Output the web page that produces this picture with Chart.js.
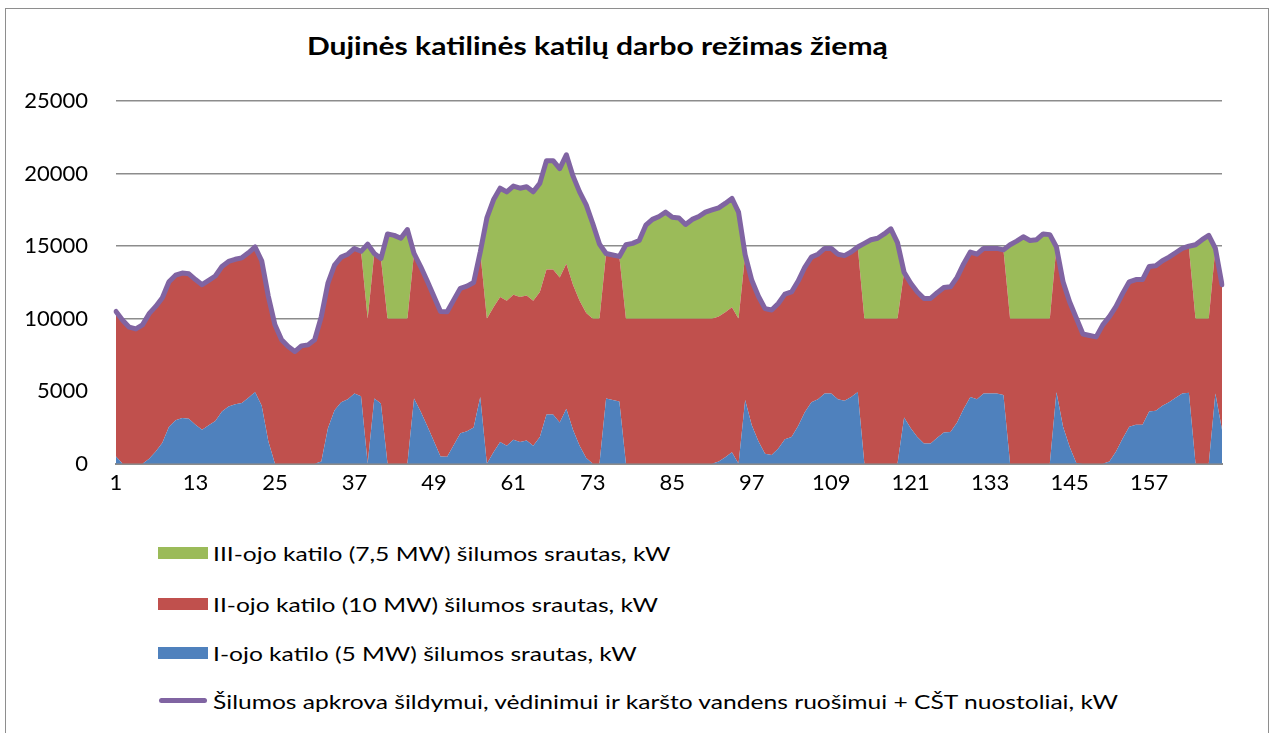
<!DOCTYPE html>
<html lang="lt">
<head>
<meta charset="UTF-8">
<title>Dujinės katilinės katilų darbo režimas žiemą</title>
<script src="https://cdn.jsdelivr.net/npm/chart.js"></script>
<style>
  body { margin: 0; background: #fff; font-family: Lato, sans-serif; color: #000; }
  .remas { position: absolute; left: 5px; top: 8px; width: 1262px; height: 740px; border: 1px solid #8e8e8e; }
  .pavadinimas { position: absolute; left: 0; width: 1194px; top: 31px; text-align: center; font-weight: bold; font-size: 24px; }
  .pavadinimas span { display: inline-block; transform: scaleX(1.25); }
  .grafikas { position: absolute; left: 0; top: 60px; width: 1274px; height: 445px; }
  .legenda div { position: absolute; left: 158px; font-size: 20px; line-height: 24px; white-space: nowrap; }
  .legenda span.dez { position: absolute; left: 0; top: 6px; width: 50px; height: 12px; }
  .legenda span.linija { position: absolute; left: 1px; top: 9px; width: 48px; height: 5px; border-radius: 3px; background: #8064A2; }
  .legenda span.tekstas { position: absolute; left: 55px; top: 0; transform: scaleX(1.23); transform-origin: left center; }
</style>
</head>
<body>
<div class="remas"></div>
<div class="pavadinimas"><span>Dujinės katilinės katilų darbo režimas žiemą</span></div>
<div class="grafikas"><canvas id="grafikas"></canvas></div>
<div class="legenda">
  <div style="top:541px"><span class="dez" style="background:#9BBB59"></span><span class="tekstas">III-ojo katilo (7,5 MW) šilumos srautas, kW</span></div>
  <div style="top:592px"><span class="dez" style="background:#C0504D"></span><span class="tekstas">II-ojo katilo (10 MW) šilumos srautas, kW</span></div>
  <div style="top:641px"><span class="dez" style="background:#4F81BD"></span><span class="tekstas">I-ojo katilo (5 MW) šilumos srautas, kW</span></div>
  <div style="top:689px"><span class="linija"></span><span class="tekstas">Šilumos apkrova šildymui, vėdinimui ir karšto vandens ruošimui + CŠT nuostoliai, kW</span></div>
</div>
<script>
// valandos 1..168
var valandos = [];
for (var i = 1; i <= 168; i++) valandos.push(String(i));

// I-ojo katilo (5 MW) srautas, kW
var katilas1 = [
  500, 0, 0, 0, 0, 350, 850, 1450, 2550, 3000, 3150, 3100, 2700, 2350, 2650, 2950, 3600, 3950, 4100, 4200, 4550, 4950, 4000, 1550,
  0, 0, 0, 0, 0, 0, 0, 150, 2450, 3700, 4250, 4450, 4850, 4650, 0, 4500, 4150, 0, 0, 0, 0, 4500, 3600, 2600,
  1550, 500, 480, 1300, 2100, 2250, 2500, 4600, 0, 800, 1500, 1250, 1650, 1500, 1600, 1250, 1850, 3400, 3400, 2850, 3800, 2350, 1250, 400,
  0, 0, 4500, 4400, 4300, 0, 0, 0, 0, 0, 0, 0, 0, 0, 0, 0, 0, 0, 0, 150, 450, 800, 0, 4400,
  2650, 1550, 700, 600, 1050, 1700, 1850, 2600, 3550, 4250, 4450, 4850, 4850, 4450, 4350, 4600, 4950, 0, 0, 0, 0, 0, 0, 3200,
  2450, 1850, 1400, 1400, 1800, 2150, 2200, 2850, 3800, 4600, 4450, 4850, 4850, 4850, 4750, 0, 0, 0, 0, 0, 0, 0, 4950, 2550,
  1150, 50, 0, 0, 0, 0, 150, 850, 1750, 2550, 2700, 2700, 3600, 3650, 4000, 4250, 4550, 4850, 4900, 0, 0, 0, 4850, 2350
];

// II-ojo katilo (10 MW) srautas, kW
var katilas2 = [
  10000, 9900, 9420, 9300, 9580, 10000, 10000, 10000, 10000, 10000, 10000, 10000, 10000, 10000, 10000, 10000, 10000, 10000, 10000, 10000, 10000, 10000, 10000, 10000,
  9580, 8550, 8080, 7740, 8130, 8200, 8550, 10000, 10000, 10000, 10000, 10000, 10000, 10000, 10000, 10000, 10000, 10000, 10000, 10000, 10000, 10000, 10000, 10000,
  10000, 10000, 10000, 10000, 10000, 10000, 10000, 10000, 10000, 10000, 10000, 10000, 10000, 10000, 10000, 10000, 10000, 10000, 10000, 10000, 10000, 10000, 10000, 10000,
  10000, 10000, 10000, 10000, 10000, 10000, 10000, 10000, 10000, 10000, 10000, 10000, 10000, 10000, 10000, 10000, 10000, 10000, 10000, 10000, 10000, 10000, 10000, 10000,
  10000, 10000, 10000, 10000, 10000, 10000, 10000, 10000, 10000, 10000, 10000, 10000, 10000, 10000, 10000, 10000, 10000, 10000, 10000, 10000, 10000, 10000, 10000, 10000,
  10000, 10000, 10000, 10000, 10000, 10000, 10000, 10000, 10000, 10000, 10000, 10000, 10000, 10000, 10000, 10000, 10000, 10000, 10000, 10000, 10000, 10000, 10000, 10000,
  10000, 10000, 8950, 8850, 8750, 9580, 10000, 10000, 10000, 10000, 10000, 10000, 10000, 10000, 10000, 10000, 10000, 10000, 10000, 10000, 10000, 10000, 10000, 10000
];

// III-ojo katilo (7,5 MW) srautas, kW
var katilas3 = [
  0, 0, 0, 0, 0, 0, 0, 0, 0, 0, 0, 0, 0, 0, 0, 0, 0, 0, 0, 0, 0, 0, 0, 0,
  0, 0, 0, 0, 0, 0, 0, 0, 0, 0, 0, 0, 0, 0, 5150, 0, 0, 5850, 5750, 5550, 6150, 0, 0, 0,
  0, 0, 0, 0, 0, 0, 0, 0, 6950, 7400, 7500, 7500, 7500, 7500, 7500, 7500, 7500, 7500, 7500, 7500, 7500, 7500, 7500, 7450,
  6550, 5150, 0, 0, 0, 5100, 5200, 5400, 6450, 6850, 7050, 7350, 7000, 6950, 6500, 6850, 7050, 7350, 7500, 7500, 7500, 7500, 7350, 0,
  0, 0, 0, 0, 0, 0, 0, 0, 0, 0, 0, 0, 0, 0, 0, 0, 0, 5200, 5450, 5550, 5850, 6200, 5250, 0,
  0, 0, 0, 0, 0, 0, 0, 0, 0, 0, 0, 0, 0, 0, 0, 5100, 5350, 5650, 5400, 5450, 5850, 5800, 0, 0,
  0, 0, 0, 0, 0, 0, 0, 0, 0, 0, 0, 0, 0, 0, 0, 0, 0, 0, 100, 5100, 5450, 5750, 0, 0
];

// Šilumos apkrova + CŠT nuostoliai, kW
var apkrova = [
  10500, 9900, 9420, 9300, 9580, 10350, 10850, 11450, 12550, 13000, 13150, 13100, 12700, 12350, 12650, 12950, 13600, 13950, 14100, 14200, 14550, 14950, 14000, 11550,
  9580, 8550, 8080, 7740, 8130, 8200, 8550, 10150, 12450, 13700, 14250, 14450, 14850, 14650, 15150, 14500, 14150, 15850, 15750, 15550, 16150, 14500, 13600, 12600,
  11550, 10500, 10480, 11300, 12100, 12250, 12500, 14600, 16950, 18200, 19000, 18750, 19150, 19000, 19100, 18750, 19350, 20900, 20900, 20350, 21300, 19850, 18750, 17850,
  16550, 15150, 14500, 14400, 14300, 15100, 15200, 15400, 16450, 16850, 17050, 17350, 17000, 16950, 16500, 16850, 17050, 17350, 17500, 17650, 17950, 18300, 17350, 14400,
  12650, 11550, 10700, 10600, 11050, 11700, 11850, 12600, 13550, 14250, 14450, 14850, 14850, 14450, 14350, 14600, 14950, 15200, 15450, 15550, 15850, 16200, 15250, 13200,
  12450, 11850, 11400, 11400, 11800, 12150, 12200, 12850, 13800, 14600, 14450, 14850, 14850, 14850, 14750, 15100, 15350, 15650, 15400, 15450, 15850, 15800, 14950, 12550,
  11150, 10050, 8950, 8850, 8750, 9580, 10150, 10850, 11750, 12550, 12700, 12700, 13600, 13650, 14000, 14250, 14550, 14850, 15000, 15100, 15450, 15750, 14850, 12350
];

var yZymos = [0, 5000, 10000, 15000, 20000, 25000];

var grafikas = new Chart(document.getElementById('grafikas'), {
  type: 'line',
  data: {
    labels: valandos,
    datasets: [
      { label: 'I-ojo katilo (5 MW) šilumos srautas, kW', data: katilas1, stack: 'katilai', fill: 'origin',
        backgroundColor: '#4F81BD', borderWidth: 0, pointRadius: 0, order: 2 },
      { label: 'II-ojo katilo (10 MW) šilumos srautas, kW', data: katilas2, stack: 'katilai', fill: '-1',
        backgroundColor: '#C0504D', borderWidth: 0, pointRadius: 0, order: 2 },
      { label: 'III-ojo katilo (7,5 MW) šilumos srautas, kW', data: katilas3, stack: 'katilai', fill: '-1',
        backgroundColor: '#9BBB59', borderWidth: 0, pointRadius: 0, order: 2 },
      { label: 'Šilumos apkrova šildymui, vėdinimui ir karšto vandens ruošimui + CŠT nuostoliai, kW', data: apkrova,
        stack: 'apkrova', fill: false, borderColor: '#8064A2', borderWidth: 5, borderJoinStyle: 'round',
        borderCapStyle: 'round', pointRadius: 0, order: 1 }
    ]
  },
  options: {
    responsive: true,
    maintainAspectRatio: false,
    animation: false,
    layout: { padding: { left: 0, right: 52, top: 21, bottom: 0 } },
    plugins: { legend: { display: false }, title: { display: false }, tooltip: { enabled: false } },
    elements: { line: { tension: 0 } },
    scales: {
      x: {
        offset: false,
        grid: { display: true, drawOnChartArea: false, drawTicks: false },
        border: { display: true, color: '#8c8c8c', width: 2 },
        ticks: {
          autoSkip: false, maxRotation: 0, padding: 6, color: '#000',
          font: { family: 'Lato', size: 22 },
          callback: function (v, idx) { return idx % 12 === 0 ? valandos[idx] : ''; }
        },
        afterFit: function (s) { s.height = 36; }
      },
      y: {
        stacked: true,
        min: 0, max: 25000,
        afterBuildTicks: function (s) { s.ticks = yZymos.map(function (v) { return { value: v }; }); },
        grid: { color: '#8c8c8c', lineWidth: 1.5, drawTicks: false },
        border: { display: false },
        ticks: {
          padding: 28, color: '#000', font: { family: 'Lato', size: 22 },
          callback: function (v) { return String(v); }
        },
        afterFit: function (s) { s.width = 116; }
      }
    }
  }
});
</script>
</body>
</html>
